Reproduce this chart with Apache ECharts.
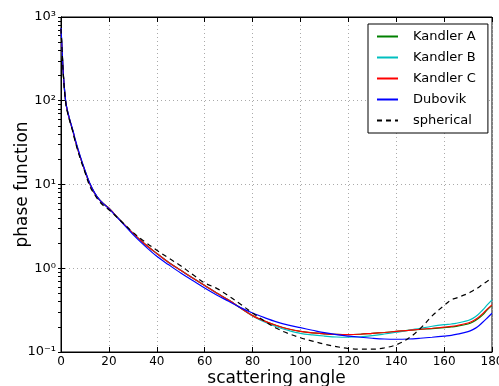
<!DOCTYPE html>
<html><head><meta charset="utf-8">
<script src="https://cdn.jsdelivr.net/npm/echarts@6/dist/echarts.min.js"></script>
<style>html,body{margin:0;padding:0;background:#fff}#c{width:499px;height:386px}</style>
</head><body><div id="c"></div>
<script>
const angles = [0,0.5,1,2,3,4,5,6,8,10,12,14,16,18,20,25,30,35,40,45,50,55,60,65,70,75,80,85,90,95,100,105,110,115,120,125,130,135,140,145,150,155,160,163,165,170,172,174,176,178,180];
const kandlerA = [725,380,200,95,69,54,43,33,21.4,14.5,10.2,7.9,6.6,5.8,5.2,3.67,2.63,1.95,1.5,1.17,0.944,0.767,0.624,0.507,0.417,0.335,0.272,0.234,0.207,0.188,0.176,0.169,0.165,0.162,0.161,0.163,0.167,0.171,0.176,0.181,0.186,0.19,0.195,0.199,0.202,0.216,0.228,0.248,0.276,0.318,0.36];
const kandlerB = [725,380,200,95,69,54,43,33,21.4,14.5,10.2,7.9,6.6,5.8,5.2,3.67,2.63,1.95,1.5,1.17,0.944,0.767,0.624,0.507,0.417,0.335,0.27,0.228,0.2,0.181,0.167,0.16,0.155,0.151,0.15,0.152,0.157,0.164,0.172,0.181,0.192,0.203,0.212,0.216,0.22,0.238,0.252,0.276,0.315,0.365,0.42];
const kandlerC = [725,380,200,95,69,54,43,33,21.4,14.5,10.2,7.9,6.6,5.8,5.2,3.67,2.63,1.95,1.5,1.17,0.944,0.767,0.624,0.507,0.417,0.335,0.272,0.234,0.207,0.188,0.176,0.169,0.165,0.162,0.161,0.163,0.167,0.171,0.176,0.181,0.187,0.192,0.198,0.202,0.206,0.222,0.235,0.255,0.285,0.325,0.365];
const dubovik = [740,390,205,97,70,55,44,34,22,14.8,10.4,8.0,6.6,5.8,5.15,3.63,2.54,1.85,1.39,1.1,0.877,0.713,0.58,0.479,0.403,0.339,0.292,0.257,0.229,0.209,0.195,0.182,0.17,0.161,0.155,0.15,0.146,0.143,0.142,0.143,0.146,0.15,0.155,0.158,0.162,0.175,0.185,0.2,0.225,0.255,0.29];
const spherical = [720,375,198,93,67,53,42,32,20.5,14,9.6,7.6,6.3,5.5,5.0,3.67,2.69,2.07,1.64,1.32,1.07,0.84,0.668,0.575,0.468,0.372,0.292,0.234,0.192,0.166,0.148,0.135,0.124,0.116,0.11,0.108,0.108,0.112,0.122,0.145,0.19,0.27,0.36,0.42,0.44,0.5,0.54,0.58,0.64,0.7,0.77];
const seriesNames = ['Kandler A','Kandler B','Kandler C','Dubovik','spherical'];
const yTicksAll = [0.1,0.2,0.3,0.4,0.5,0.6,0.7,0.8,0.9,1,2,3,4,5,6,7,8,9,10,20,30,40,50,60,70,80,90,100,200,300,400,500,600,700,800,900,1000];

const pair = arr => angles.map((a,i)=>[a,arr[i]]);
const font = 'DejaVu Sans';
const chart = echarts.init(document.getElementById('c'));
const mk = (name, data, color, dash) => ({
  name, type:'line', data:pair(data), smooth:0.35, showSymbol:false, symbol:'none',
  lineStyle:{color, width:1.2, type: dash ? [5,4] : 'solid'}, itemStyle:{color},
  xAxisIndex:0, yAxisIndex:0, animation:false, z: dash?5:3
});
const sup = {'-':'\u207B','0':'\u2070','1':'\u00B9','2':'\u00B2','3':'\u00B3'};
const yLab = v => {
  const e = String(Math.round(Math.log10(v)));
  return '10' + e.split('').map(c => sup[c] || c).join('');
};
chart.setOption({
  animation:false,
  textStyle:{fontFamily:font},
  grid:{left:61,right:7,top:17,bottom:34,outerBoundsMode:'none',
        show:true,borderColor:'#000',borderWidth:1},
  xAxis:[
    {type:'value',min:0,max:180,interval:20,position:'bottom',
     axisLine:{lineStyle:{color:'#000'}},
     axisTick:{inside:true,length:5,lineStyle:{color:'#000'}},
     axisLabel:{color:'#000',fontSize:12,fontFamily:font,margin:4,hideOverlap:false},
     splitLine:{show:true,lineStyle:{color:'#aaa',type:[1,3],width:1}},
     name:'scattering angle',nameLocation:'middle',nameGap:18,nameMoveOverlap:false,
     nameTextStyle:{fontSize:17,color:'#000',fontFamily:font,verticalAlign:'top'}},
    {type:'value',min:0,max:180,interval:20,position:'top',
     axisLine:{show:true,lineStyle:{color:'#000'}},
     axisTick:{inside:true,length:5,lineStyle:{color:'#000'}},
     axisLabel:{show:false},splitLine:{show:false}}
  ],
  yAxis:[
    {type:'log',logBase:10,min:0.1,max:1000,position:'left',
     axisLine:{show:true,lineStyle:{color:'#000'}},
     axisTick:{inside:true,length:4,lineStyle:{color:'#000'}},
     axisLabel:{show:true,color:'#000',fontSize:13,fontFamily:font,margin:5,formatter:yLab,hideOverlap:false},
     splitLine:{show:true,lineStyle:{color:'#aaa',type:[1,3],width:1}},
     name:'phase function',nameLocation:'middle',nameGap:30,nameRotate:90,nameMoveOverlap:false,
     nameTextStyle:{fontSize:17,color:'#000',fontFamily:font}},
    {type:'log',logBase:10,min:0.1,max:1000,position:'right',
     axisLine:{show:true,lineStyle:{color:'#000'}},
     axisTick:{inside:true,length:3,customValues:yTicksAll,lineStyle:{color:'#000'}},
     axisLabel:{show:false},splitLine:{show:false}}
  ],
  legend:{
    show:true, data:seriesNames, orient:'vertical', left:368, top:24,
    itemWidth:21, itemHeight:10, itemGap:8,
    padding:[6,12,6,8], borderColor:'#000', borderWidth:1, backgroundColor:'#fff',
    itemStyle:{opacity:0,borderWidth:0},
    textStyle:{fontSize:13,fontFamily:font,color:'#000',padding:[0,0,0,10]},
    z:10
  },
  series:[
    mk(seriesNames[0], kandlerA, '#008000'),
    mk(seriesNames[1], kandlerB, '#00bfbf'),
    mk(seriesNames[2], kandlerC, '#ff0000'),
    mk(seriesNames[3], dubovik, '#0000ff'),
    mk(seriesNames[4], spherical, '#000000', true)
  ]
});
</script></body></html>
